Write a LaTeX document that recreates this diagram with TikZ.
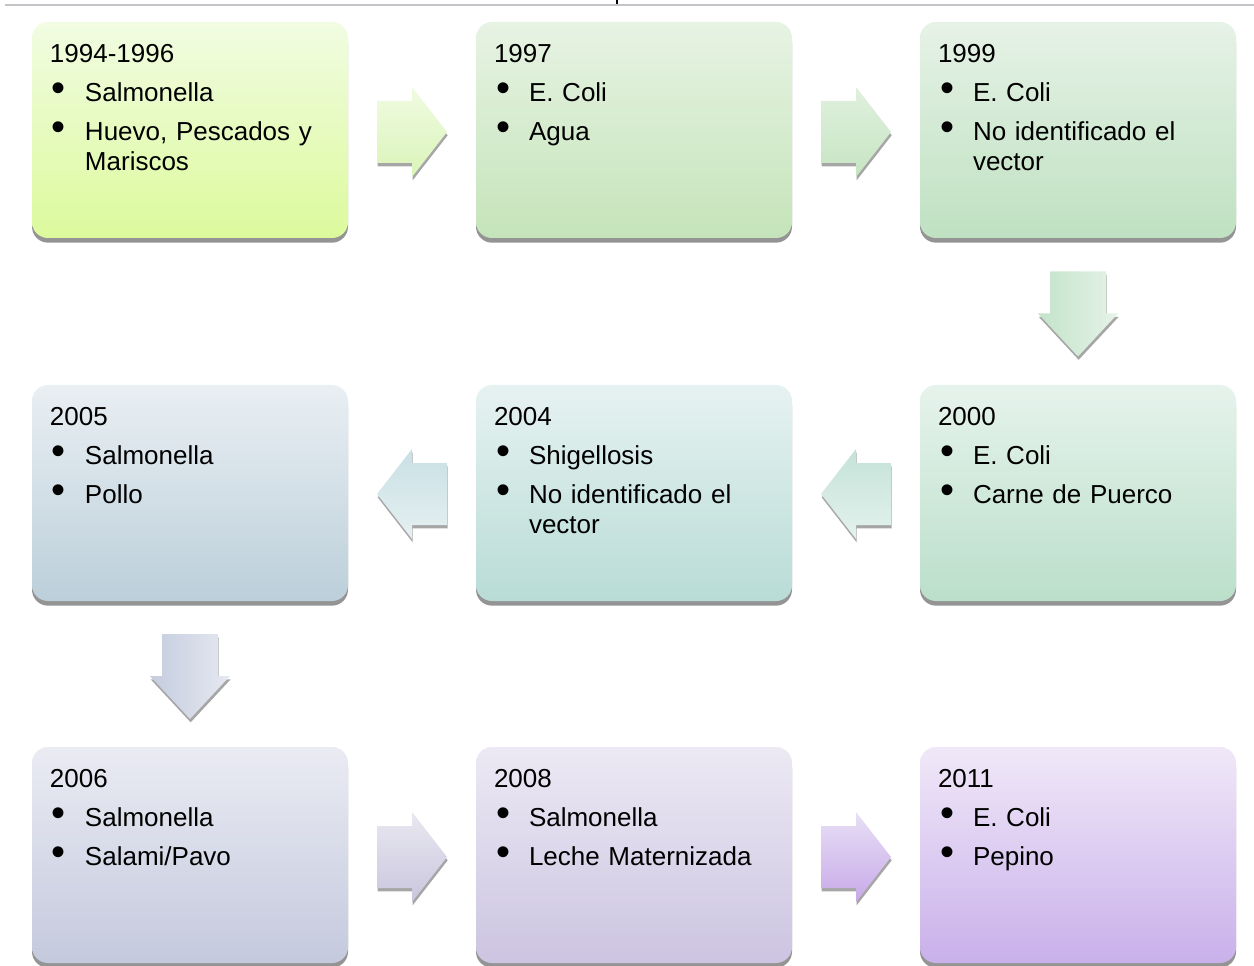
\documentclass[tikz,border=0pt]{standalone}
\usepackage{fontspec}
\setmainfont{Liberation Sans}
\usetikzlibrary{calc,shadows}

% box colours (top / bottom)
\definecolor{b1t}{HTML}{F1FCE2}\definecolor{b1b}{HTML}{DCFA9C}
\definecolor{b2t}{HTML}{E7F3E3}\definecolor{b2b}{HTML}{C5E4BA}
\definecolor{b3t}{HTML}{E6F2E6}\definecolor{b3b}{HTML}{BFE1C2}
\definecolor{b4t}{HTML}{E6F3EC}\definecolor{b4b}{HTML}{BBDFCA}
\definecolor{b5t}{HTML}{E6F2F1}\definecolor{b5b}{HTML}{B9DCD6}
\definecolor{b6t}{HTML}{E9EFF3}\definecolor{b6b}{HTML}{BCCFDA}
\definecolor{b7t}{HTML}{EAEBF3}\definecolor{b7b}{HTML}{C4C9DD}
\definecolor{b8t}{HTML}{ECE9F4}\definecolor{b8b}{HTML}{CCC4E1}
\definecolor{b9t}{HTML}{F0E8F8}\definecolor{b9b}{HTML}{C9B0EA}
% arrow colours
\definecolor{a1t}{HTML}{F0FBE2}\definecolor{a1b}{HTML}{DAF4B8}
\definecolor{a2t}{HTML}{E0F0DE}\definecolor{a2b}{HTML}{C6E5C2}
\definecolor{a3l}{HTML}{C4E3CA}\definecolor{a3r}{HTML}{E6F3E8}
\definecolor{a4t}{HTML}{C4E2D8}\definecolor{a4b}{HTML}{E4F2EE}
\definecolor{a5t}{HTML}{C8E0E4}\definecolor{a5b}{HTML}{E6F0F2}
\definecolor{a6l}{HTML}{C4CCDE}\definecolor{a6r}{HTML}{E6E9F1}
\definecolor{a7t}{HTML}{E8E8F0}\definecolor{a7b}{HTML}{CAC6DE}
\definecolor{a8t}{HTML}{E8E0F6}\definecolor{a8b}{HTML}{C8A9E8}
\definecolor{rulegray}{HTML}{C4C4C8}

\newcommand\bul[1]{\par\vspace{6.75pt}\noindent\hspace{1.5pt}\makebox[24.75pt][l]{\fontsize{30}{30}\selectfont\raisebox{-0.5pt}{\textbullet}}\parbox[t]{190pt}{#1}}

% block arrow outlines, relative to their centre
\def\rarr{+(-35,-31) -- +(0,-31) -- +(0,-45) -- +(35,0) -- +(0,45) -- +(0,31) -- +(-35,31) -- cycle}
\def\larr{+(35,-31) -- +(0,-31) -- +(0,-45) -- +(-35,0) -- +(0,45) -- +(0,31) -- +(35,31) -- cycle}
\def\darr{+(-28,-42) -- +(28,-42) -- +(28,0) -- +(40,0) -- +(0,43) -- +(-40,0) -- +(-28,0) -- cycle}

\begin{document}
\begin{tikzpicture}[x=0.75pt,y=-0.75pt,
    stage/.style={rectangle, rounded corners=12pt, minimum width=237pt, minimum height=162pt,
      inner sep=0pt, drop shadow={shadow xshift=0pt, shadow yshift=-3.5pt, fill=black, opacity=.42}},
    stagetext/.style={anchor=north west, inner sep=0pt, text width=225pt,
      font=\fontsize{19.5}{22.5}\selectfont},
    blockarrow/.style={drop shadow={shadow xshift=0.5pt, shadow yshift=-2.5pt, fill=black, opacity=.35}}]
  \useasboundingbox (0,0) rectangle (1254,966);

  % top rule
  \draw[rulegray, line width=1.8pt] (5,5) -- (1254,5);
  \fill (615.5,0) rectangle (617.5,4.5);

  % boxes
  \node[stage, top color=b1t, bottom color=b1b] (y1994) at (190,130) {};
  \node[stage, top color=b2t, bottom color=b2b] (y1997) at (634,130) {};
  \node[stage, top color=b3t, bottom color=b3b] (y1999) at (1078,130) {};
  \node[stage, top color=b4t, bottom color=b4b] (y2000) at (1078,493) {};
  \node[stage, top color=b5t, bottom color=b5b] (y2004) at (634,493) {};
  \node[stage, top color=b6t, bottom color=b6b] (y2005) at (190,493) {};
  \node[stage, top color=b7t, bottom color=b7b] (y2006) at (190,855) {};
  \node[stage, top color=b8t, bottom color=b8b] (y2008) at (634,855) {};
  \node[stage, top color=b9t, bottom color=b9b] (y2011) at (1078,855) {};

  % texts
  \node[stagetext] at ([shift={(18,22)}]y1994.north west) {1994-1996\bul{Salmonella}\bul{Huevo, Pescados y\\Mariscos}};
  \node[stagetext] at ([shift={(18,22)}]y1997.north west) {1997\bul{E. Coli}\bul{Agua}};
  \node[stagetext] at ([shift={(18,22)}]y1999.north west) {1999\bul{E. Coli}\bul{No identificado el\\vector}};
  \node[stagetext] at ([shift={(18,22)}]y2000.north west) {2000\bul{E. Coli}\bul{Carne de Puerco}};
  \node[stagetext] at ([shift={(18,22)}]y2004.north west) {2004\bul{Shigellosis}\bul{No identificado el\\vector}};
  \node[stagetext] at ([shift={(18,22)}]y2005.north west) {2005\bul{Salmonella}\bul{Pollo}};
  \node[stagetext] at ([shift={(18,22)}]y2006.north west) {2006\bul{Salmonella}\bul{Salami/Pavo}};
  \node[stagetext] at ([shift={(18,22)}]y2008.north west) {2008\bul{Salmonella}\bul{Leche Maternizada}};
  \node[stagetext] at ([shift={(18,22)}]y2011.north west) {2011\bul{E. Coli}\bul{Pepino}};

  % arrows between the boxes
  \coordinate (c1) at ($(y1994.east)!0.5!(y1997.west)+(0,2)$);
  \coordinate (c2) at ($(y1997.east)!0.5!(y1999.west)+(0,2)$);
  \coordinate (c3) at ($(y1999.south)!0.5!(y2000.north)+(0,2)$);
  \coordinate (c4) at ($(y2000.west)!0.5!(y2004.east)+(0,1)$);
  \coordinate (c5) at ($(y2004.west)!0.5!(y2005.east)+(0,1)$);
  \coordinate (c6) at ($(y2005.south)!0.5!(y2006.north)+(0,2)$);
  \coordinate (c7) at ($(y2006.east)!0.5!(y2008.west)+(0,2)$);
  \coordinate (c8) at ($(y2008.east)!0.5!(y2011.west)+(0,2)$);

  \path[blockarrow, top color=a1t, bottom color=a1b] (c1) \rarr;
  \path[blockarrow, top color=a2t, bottom color=a2b] (c2) \rarr;
  \path[blockarrow, left color=a3l, right color=a3r] (c3) \darr;
  \path[blockarrow, top color=a4t, bottom color=a4b] (c4) \larr;
  \path[blockarrow, top color=a5t, bottom color=a5b] (c5) \larr;
  \path[blockarrow, left color=a6l, right color=a6r] (c6) \darr;
  \path[blockarrow, top color=a7t, bottom color=a7b] (c7) \rarr;
  \path[blockarrow, top color=a8t, bottom color=a8b] (c8) \rarr;
\end{tikzpicture}
\end{document}
